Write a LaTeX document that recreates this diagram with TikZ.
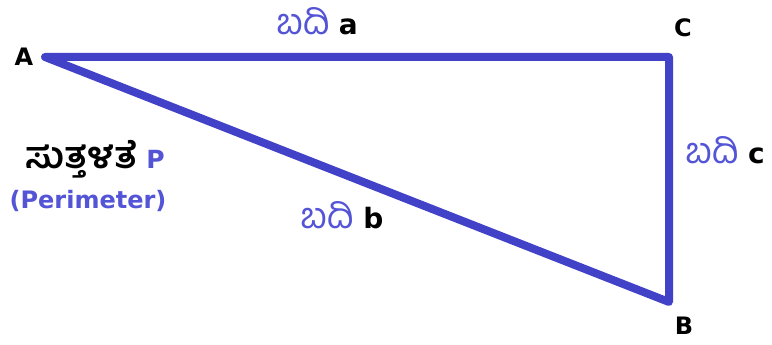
\documentclass[tikz,border=0pt]{standalone}
\usepackage{fontspec}
\setmainfont{DejaVu Sans}
\newfontfamily\kn[Script=Kannada]{Hind Mysuru}
\definecolor{triblue}{RGB}{66,66,200}
\definecolor{txtblue}{RGB}{84,84,214}
\newcommand{\kside}[1]{{\fontsize{36}{40}\selectfont\kn\mdseries\color{txtblue}#1}}
\begin{document}
\begin{tikzpicture}[x=1pt,y=-1pt]
\useasboundingbox (0,0) rectangle (772,345);
\tikzset{
  vlabel/.style={font=\fontsize{24}{28}\selectfont\bfseries, text=black, inner sep=0pt},
  sidelabel/.style={font=\fontsize{28}{30}\selectfont\bfseries, inner sep=0pt},
  edge/.style={draw=triblue, line width=8pt, line join=round}
}
\coordinate (A) at (45,57);
\coordinate (C) at (669,57);
\coordinate (B) at (669,302);
\draw[edge] (A) -- (C) -- (B) -- cycle;
\node[vlabel] (lA) at (24,57) {A};
\node[vlabel] (lC) at (683,28) {C};
\node[vlabel] (lB) at (684,326) {B};
\node[sidelabel] (sa) at (317,21) {\kside{ಬದಿ} a};
\node[sidelabel] (sc) at (725,150) {\kside{ಬದಿ} c};
\node[sidelabel] (sb) at (342,215) {\kside{ಬದಿ} b};
\node[sidelabel, font=\fontsize{25}{28}\selectfont\bfseries] (per) at (95,159) {{\fontsize{37}{40}\selectfont\kn\bfseries ಸುತ್ತಳತೆ} {\color{txtblue}P}};
\node[sidelabel, font=\fontsize{24}{28}\selectfont\bfseries, text=txtblue] (pereng) at (88,201) {(Perimeter)};
\end{tikzpicture}
\end{document}
